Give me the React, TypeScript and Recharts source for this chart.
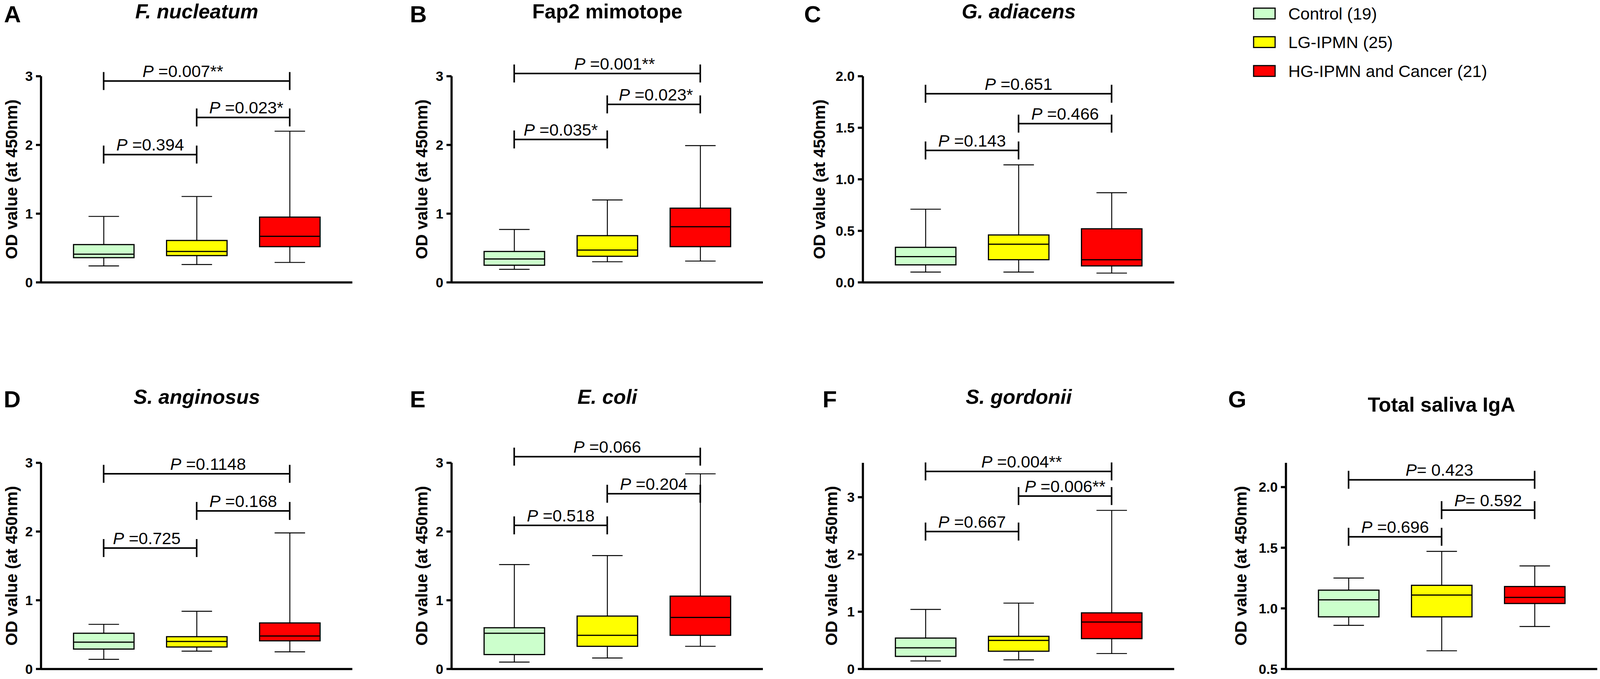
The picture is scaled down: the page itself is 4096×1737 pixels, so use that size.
import React from 'react';
import { ComposedChart, Bar, XAxis, YAxis, ReferenceLine } from 'recharts';

const S = 0.786;
const FONT = '"Liberation Sans", Arial, sans-serif';

const GROUPS = ['Control (19)', 'LG-IPMN (25)', 'HG-IPMN and Cancer (21)'];
const FILLS = ['#CCFFCC', '#FFFF00', '#FF0000'];

// [min, q1, median, q3, max] for each group
const F_NUCLEATUM = [[0.24, 0.36, 0.41, 0.55, 0.96], [0.26, 0.39, 0.45, 0.61, 1.25], [0.29, 0.52, 0.67, 0.95, 2.2]];
const FAP2 = [[0.19, 0.25, 0.34, 0.45, 0.77], [0.3, 0.38, 0.47, 0.68, 1.2], [0.31, 0.52, 0.81, 1.08, 1.99]];
const G_ADIACENS = [[0.1, 0.17, 0.25, 0.34, 0.71], [0.1, 0.22, 0.37, 0.46, 1.14], [0.09, 0.16, 0.22, 0.52, 0.87]];
const S_ANGINOSUS = [[0.14, 0.29, 0.39, 0.52, 0.65], [0.26, 0.32, 0.4, 0.47, 0.84], [0.25, 0.41, 0.48, 0.67, 1.98]];
const E_COLI = [[0.1, 0.21, 0.52, 0.6, 1.52], [0.16, 0.33, 0.49, 0.77, 1.65], [0.33, 0.49, 0.75, 1.06, 2.84]];
const S_GORDONII = [[0.14, 0.22, 0.37, 0.54, 1.04], [0.16, 0.31, 0.5, 0.57, 1.15], [0.27, 0.53, 0.82, 0.98, 2.77]];
const IGA = [[0.86, 0.93, 1.07, 1.15, 1.25], [0.65, 0.93, 1.11, 1.19, 1.47], [0.85, 1.04, 1.09, 1.18, 1.35]];

// comparison brackets: groups compared, height on the value axis, text after "P"
const F_NUCLEATUM_P = [{ from: 0, to: 1, at: 1.86, text: ' =0.394' }, { from: 1, to: 2, at: 2.4, text: ' =0.023*' }, { from: 0, to: 2, at: 2.93, text: ' =0.007**' }];
const FAP2_P = [{ from: 0, to: 1, at: 2.08, text: ' =0.035*' }, { from: 1, to: 2, at: 2.59, text: ' =0.023*' }, { from: 0, to: 2, at: 3.04, text: ' =0.001**' }];
const G_ADIACENS_P = [{ from: 0, to: 1, at: 1.28, text: ' =0.143' }, { from: 1, to: 2, at: 1.54, text: ' =0.466' }, { from: 0, to: 2, at: 1.83, text: ' =0.651' }];
const S_ANGINOSUS_P = [{ from: 0, to: 1, at: 1.76, text: ' =0.725' }, { from: 1, to: 2, at: 2.3, text: ' =0.168' }, { from: 0, to: 2, at: 2.84, text: ' =0.1148' }];
const E_COLI_P = [{ from: 0, to: 1, at: 2.09, text: ' =0.518' }, { from: 1, to: 2, at: 2.55, text: ' =0.204' }, { from: 0, to: 2, at: 3.09, text: ' =0.066' }];
const S_GORDONII_P = [{ from: 0, to: 1, at: 2.4, text: ' =0.667' }, { from: 1, to: 2, at: 3.02, text: ' =0.006**' }, { from: 0, to: 2, at: 3.45, text: ' =0.004**' }];
const IGA_P = [{ from: 0, to: 1, at: 1.59, text: ' =0.696' }, { from: 1, to: 2, at: 1.81, text: '= 0.592' }, { from: 0, to: 2, at: 2.06, text: '= 0.423' }];

const TICKS_INT = [0, 1, 2, 3];
const TICKS_HALF = [0, 0.5, 1, 1.5, 2];
const TICKS_IGA = [0.5, 1, 1.5, 2];

// layout in reference pixels (scaled by S when drawn)
const ROWS = [
  { top: 248, bottom: 919, letterBase: 73, titleBase: 60 },
  { top: 1506, bottom: 2177, letterBase: 1326, titleBase: 1314 },
];

const PANELS = [
  { letter: 'A', title: 'F. nucleatum', italic: true, stats: F_NUCLEATUM, pvals: F_NUCLEATUM_P, ticks: TICKS_INT, domain: [0, 3], dec: 0, x0: 134, row: 0, letterX: 13, ylab: 97, dx: [0, 10, -45] },
  { letter: 'B', title: 'Fap2 mimotope', italic: false, stats: FAP2, pvals: FAP2_P, ticks: TICKS_INT, domain: [0, 3], dec: 0, x0: 1471, row: 0, letterX: 1335, ylab: 98, dx: [0, 7, 24] },
  { letter: 'C', title: 'G. adiacens', italic: true, stats: G_ADIACENS, pvals: G_ADIACENS_P, ticks: TICKS_HALF, domain: [0, 2], dec: 1, x0: 2811, row: 0, letterX: 2619, ylab: 142, dx: [0, 0, 0] },
  { letter: 'D', title: 'S. anginosus', italic: true, stats: S_ANGINOSUS, pvals: S_ANGINOSUS_P, ticks: TICKS_INT, domain: [0, 3], dec: 0, x0: 134, row: 1, letterX: 12, ylab: 97, dx: [-11, 0, 37] },
  { letter: 'E', title: 'E. coli', italic: true, stats: E_COLI, pvals: E_COLI_P, ticks: TICKS_INT, domain: [0, 3], dec: 0, x0: 1471, row: 1, letterX: 1335, ylab: 98, dx: [0, 0, 0] },
  { letter: 'F', title: 'S. gordonii', italic: true, stats: S_GORDONII, pvals: S_GORDONII_P, ticks: TICKS_INT, domain: [0, 3.6], dec: 0, x0: 2811, row: 1, letterX: 2679, ylab: 103, dx: [0, 0, 10] },
  { letter: 'G', title: 'Total saliva IgA', italic: false, stats: IGA, pvals: IGA_P, ticks: TICKS_IGA, domain: [0.5, 2.2], dec: 1, x0: 4188, row: 1, letterX: 4000, ylab: 146, dx: [0, 0, -7], titleBase: 1340 },
];

const YW = 150; // y axis width (output px)
const MT = 190; // room above plot for brackets
const XH = 40;
const PLOT_W = 1014 * S;
const PAD = 52.5 * S;

const BoxShape = (props: any) => {
  const { x, y, width, height, payload } = props;
  const [lo, q1, med, q3, hi] = payload.stats;
  const top = Math.min(y, y + height);
  const h = Math.abs(height);
  const py = (v: number) => top + (h * (q3 - v)) / (q3 - q1);
  const cx = x + width / 2;
  const cap = 39;
  return (
    <g>
      <line x1={cx} x2={cx} y1={py(hi)} y2={py(q3)} stroke="#000" strokeWidth={2.4} />
      <line x1={cx} x2={cx} y1={py(q1)} y2={py(lo)} stroke="#000" strokeWidth={2.4} />
      <line x1={cx - cap} x2={cx + cap} y1={py(hi)} y2={py(hi)} stroke="#000" strokeWidth={2.4} />
      <line x1={cx - cap} x2={cx + cap} y1={py(lo)} y2={py(lo)} stroke="#000" strokeWidth={2.4} />
      <rect x={x} y={top} width={width} height={h} fill={payload.fill} stroke="#000" strokeWidth={3} />
      <line x1={x} x2={x + width} y1={py(med)} y2={py(med)} stroke="#000" strokeWidth={3} />
    </g>
  );
};

const bracketShape = (text: string, dx: number) => (props: any) => {
  const { x1, y1, x2 } = props;
  const cap = 23;
  const mid = (x1 + x2) / 2 + dx * S;
  return (
    <g>
      <line x1={x1} x2={x2} y1={y1} y2={y1} stroke="#000" strokeWidth={4} />
      <line x1={x1} x2={x1} y1={y1 - cap} y2={y1 + cap} stroke="#000" strokeWidth={4} />
      <line x1={x2} x2={x2} y1={y1 - cap} y2={y1 + cap} stroke="#000" strokeWidth={4} />
      <text x={mid} y={y1 - 10} textAnchor="middle" fontSize={43} fontFamily={FONT} fill="#000" style={{ whiteSpace: 'pre' }}>
        <tspan fontStyle="italic">P</tspan>
        <tspan>{text}</tspan>
      </text>
    </g>
  );
};

const Panel = ({ p }: { p: any }) => {
  const row = ROWS[p.row];
  const plotH = (row.bottom - row.top) * S;
  const data = GROUPS.map((name, i) => ({
    name,
    stats: p.stats[i],
    box: [p.stats[i][1], p.stats[i][3]],
    fill: FILLS[i],
  }));
  const w = YW + PLOT_W + 12;
  const h = MT + plotH + XH;
  return (
    <div style={{ position: 'absolute', left: p.x0 * S - YW, top: row.top * S - MT }}>
      <ComposedChart width={w} height={h} data={data} margin={{ top: MT, right: 12, bottom: 0, left: 0 }}>
        <XAxis
          dataKey="name"
          type="category"
          padding={{ left: PAD, right: PAD }}
          tick={false}
          tickSize={16}
          height={XH}
          axisLine={{ stroke: '#000', strokeWidth: 5.5 }}
          tickLine={{ stroke: '#000', strokeWidth: 5.5 }}
        />
        <YAxis
          width={YW}
          type="number"
          domain={p.domain}
          ticks={p.ticks}
          interval={0}
          tickSize={13}
          tickMargin={8}
          tickFormatter={(v: number) => v.toFixed(p.dec)}
          tick={{ fontSize: 35, fontWeight: 700, fill: '#000', fontFamily: FONT }}
          axisLine={{ stroke: '#000', strokeWidth: 5.5 }}
          tickLine={{ stroke: '#000', strokeWidth: 5.5 }}
        />
        <Bar dataKey="box" barSize={197 * S} shape={BoxShape} isAnimationActive={false} />
        {p.pvals.map((b: any, i: number) => (
          <ReferenceLine
            key={i}
            ifOverflow="visible"
            segment={[{ x: GROUPS[b.from], y: b.at }, { x: GROUPS[b.to], y: b.at }]}
            shape={bracketShape(b.text, p.dx[i])}
          />
        ))}
      </ComposedChart>
    </div>
  );
};

const Overlay = () => (
  <svg width={4096} height={1737} style={{ position: 'absolute', left: 0, top: 0, pointerEvents: 'none' }} fontFamily={FONT}>
    {PANELS.map((p) => {
      const row = ROWS[p.row];
      const cy = ((row.top + row.bottom) / 2) * S;
      const lx = (p.x0 - p.ylab) * S;
      return (
        <g key={p.letter}>
          <text x={p.letterX * S} y={row.letterBase * S} fontSize={60} fontWeight={700} fill="#000">
            {p.letter}
          </text>
          <text
            x={(p.x0 + 507) * S}
            y={(p.titleBase ?? row.titleBase) * S}
            textAnchor="middle"
            fontSize={52}
            fontWeight={700}
            fontStyle={p.italic ? 'italic' : 'normal'}
            fill="#000"
          >
            {p.title}
          </text>
          <text
            x={lx}
            y={cy}
            transform={`rotate(-90 ${lx} ${cy})`}
            textAnchor="middle"
            dominantBaseline="central"
            fontSize={42.5}
            fontWeight={700}
            fill="#000"
          >
            OD value (at 450nm)
          </text>
        </g>
      );
    })}
    {GROUPS.map((g, i) => {
      const cy = [44, 137, 231][i] * S;
      return (
        <g key={g}>
          <rect x={4083 * S} y={cy - 17.5 * S} width={70 * S} height={35 * S} fill={FILLS[i]} stroke="#000" strokeWidth={3} />
          <text x={4196 * S} y={cy + 15.5} fontSize={43} fill="#000">
            {g}
          </text>
        </g>
      );
    })}
  </svg>
);

export default function App() {
  return (
    <div style={{ position: 'absolute', left: 0, top: 0, width: 4096, height: 1737, background: '#fff', overflow: 'hidden', fontFamily: FONT }}>
      {PANELS.map((p) => (
        <Panel key={p.letter} p={p} />
      ))}
      <Overlay />
    </div>
  );
}
